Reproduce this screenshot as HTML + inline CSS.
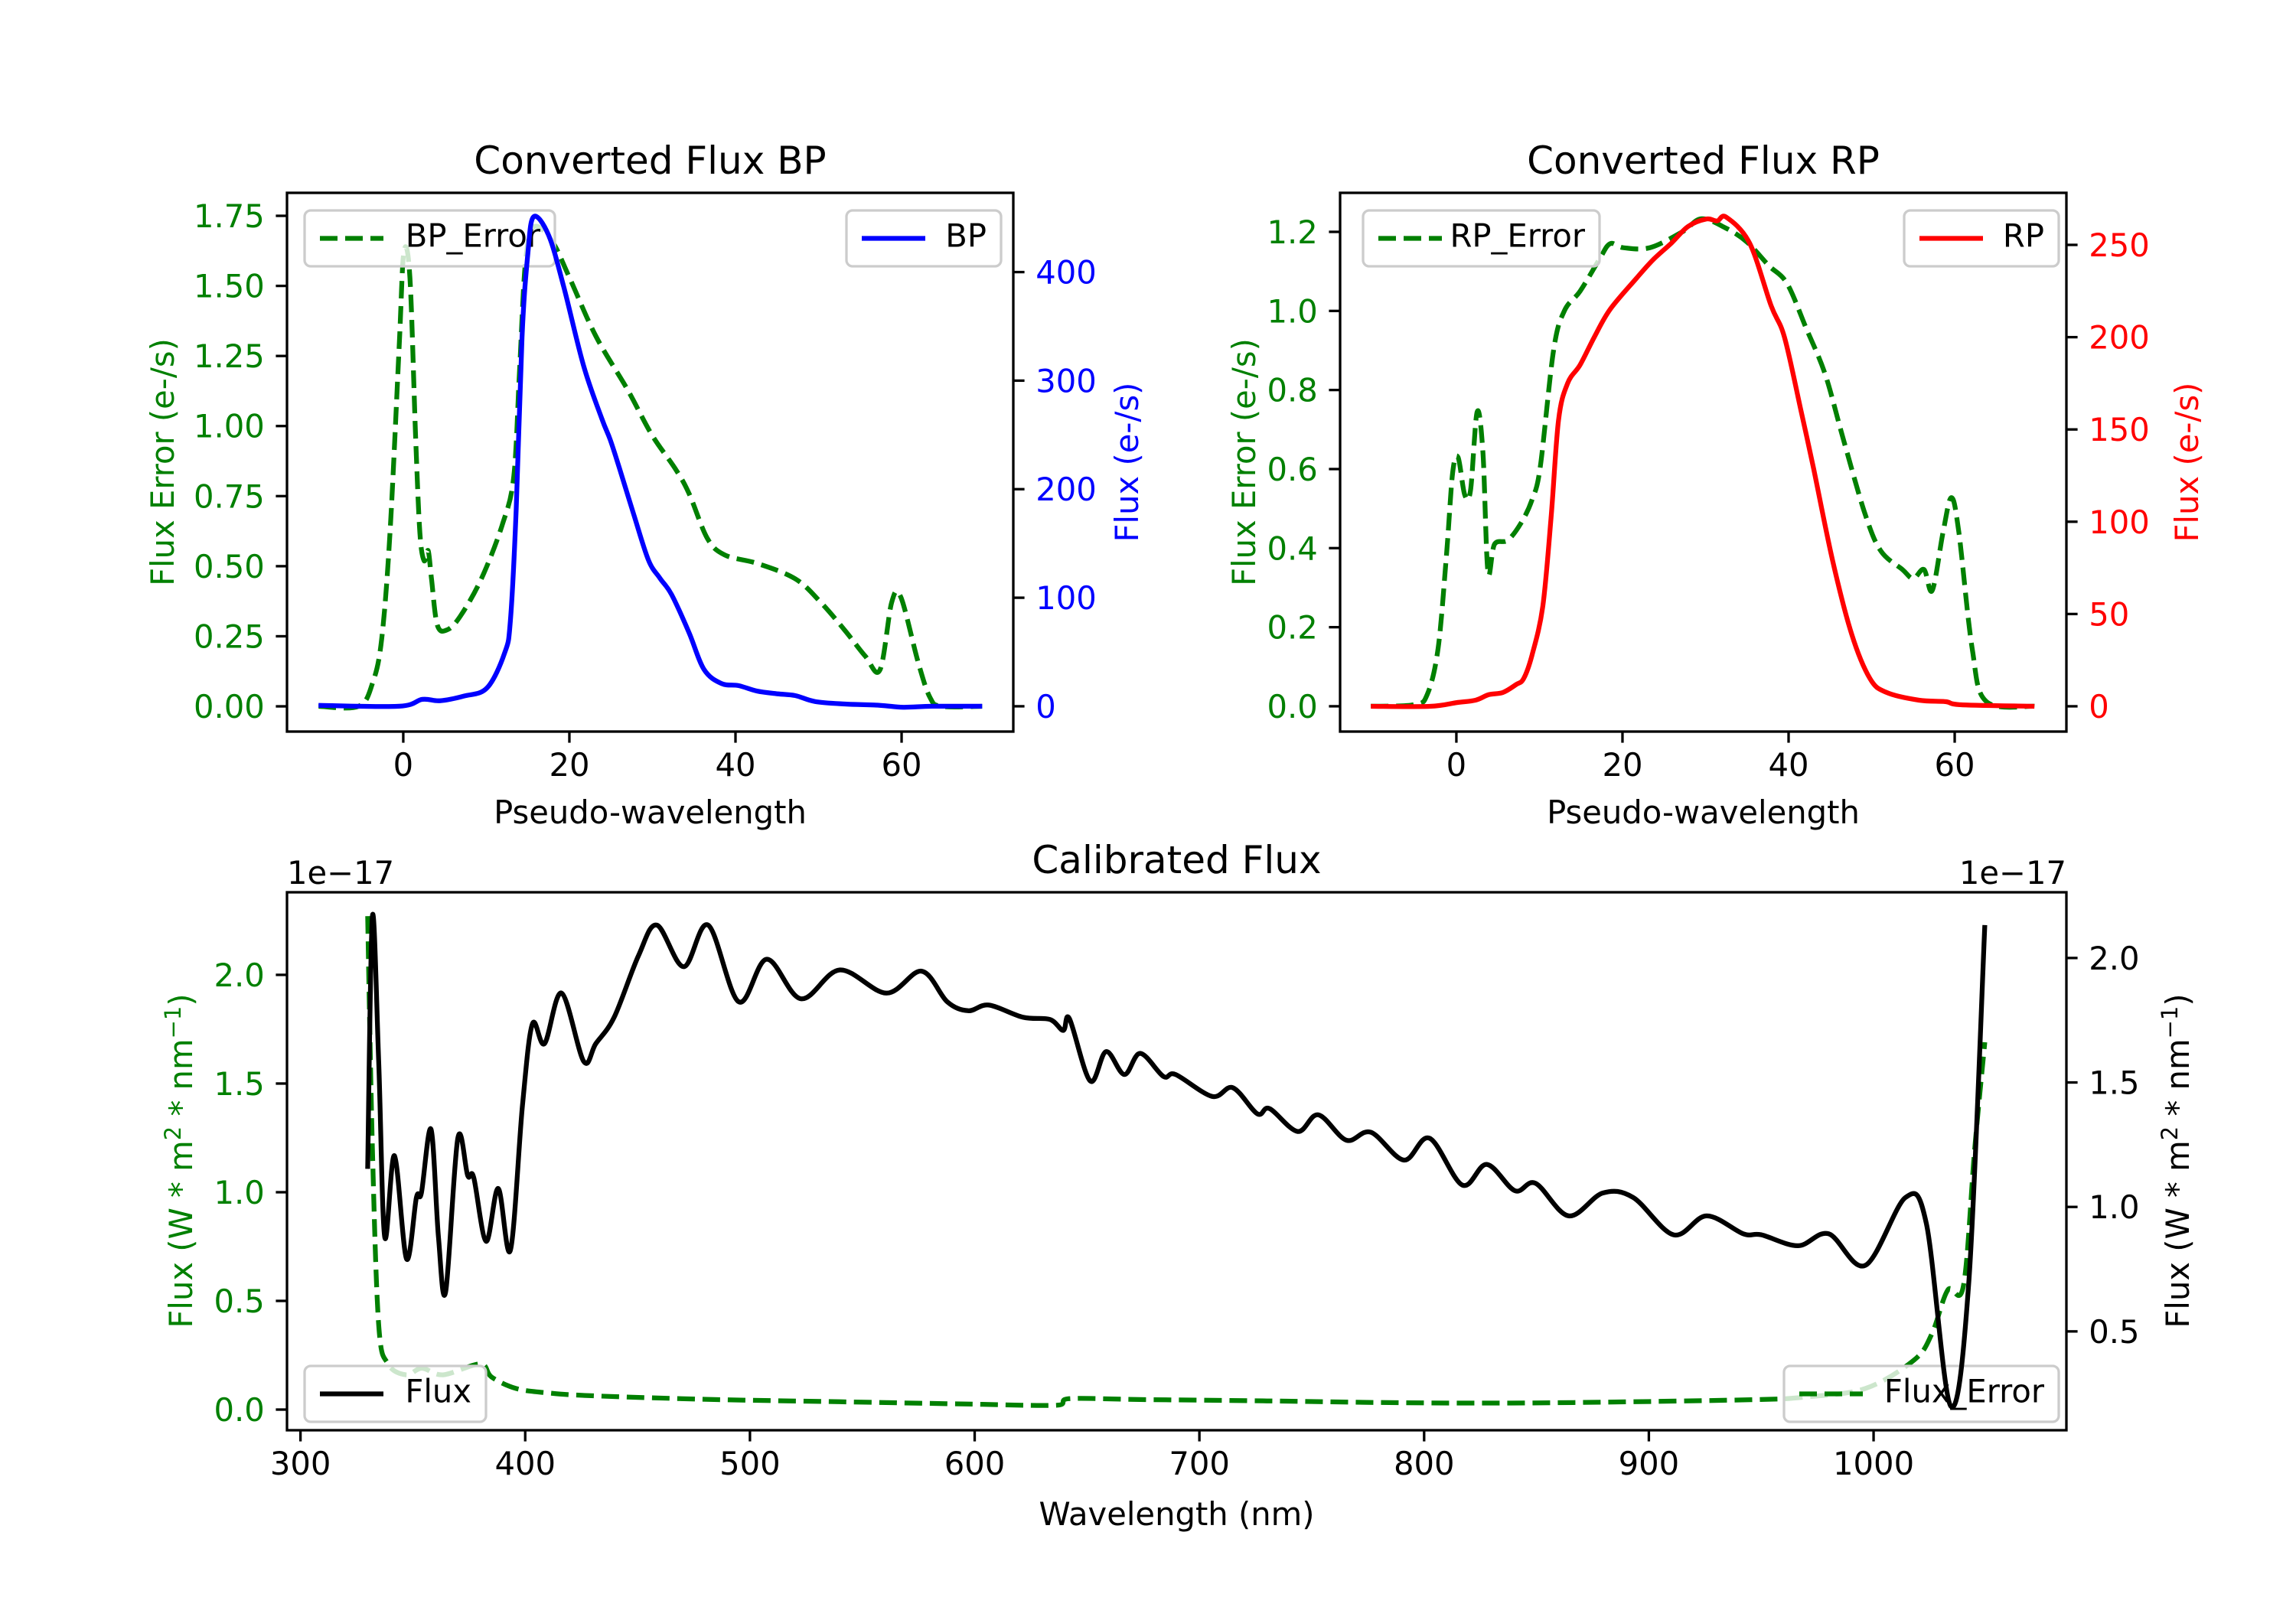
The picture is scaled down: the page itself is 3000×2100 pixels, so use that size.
<!DOCTYPE html>
<html><head><meta charset="utf-8"><style>
html,body{margin:0;padding:0;background:#fff}
svg{display:block}
text{font-family:"DejaVu Sans","Liberation Sans",sans-serif}
</style></head><body>
<svg id="fig" width="3000" height="2100" viewBox="0 0 3000 2100" xmlns="http://www.w3.org/2000/svg">
<rect width="3000" height="2100" fill="#fff"/>
</svg>
<script>
// ---------- BP panel data ----------
const bpX = [-10.2,-0.5,2.3,4.4,7.3,10.1,12.2,12.9,13.6,14.3,15,15.7,17.5,19.3,21.7,23.9,24.9,26,27.7,29.5,30.9,32.3,34.4,36.2,38.3,40.4,42.6,45,47.2,49.6,53.2,57.4,60.2,63.7,69.7];
const bpFlux = [0.9,0,6.4,5.1,9.4,17,49,79,182,340,417,451,434,387,314,265,246,220,178,135,118,103,68,34,21,19,14,11.5,9.8,4.3,2.1,0.9,-0.9,0,0];
const bpErrX = [-10.2,-5.4,-3.7,-2.6,-1.6,-0.5,0.07,0.8,1.5,2,2.5,3,3.4,4.1,5.3,6.9,9.4,11.9,13.3,14,14.7,15.7,17.9,20,23.2,27,29.9,32.7,34.4,36.6,38.7,42.6,47.2,50.3,53.2,55.6,57.4,58.8,59.9,62,63.4,64.8,69.7];
const bpErr = [0,0,0.083,0.24,0.62,1.28,1.62,1.53,0.95,0.62,0.52,0.555,0.455,0.29,0.273,0.323,0.455,0.646,0.82,1.2,1.58,1.71,1.66,1.53,1.32,1.13,0.97,0.85,0.76,0.6,0.54,0.51,0.455,0.37,0.27,0.18,0.13,0.37,0.39,0.157,0.033,0,0];
const bpXTicks = [0,20,40,60];
const bpLeftTicks = [0,0.25,0.5,0.75,1.0,1.25,1.5,1.75];
const bpLeftLabels = ["0.00","0.25","0.50","0.75","1.00","1.25","1.50","1.75"];
const bpRightTicks = [0,100,200,300,400];
const bpRightLabels = ["0","100","200","300","400"];

// ---------- RP panel data ----------
const rpX = [-10.3,-3.2,0.06,2.3,3.9,5.6,7.2,8.1,9.1,10.4,11.4,12.3,13.4,14.9,16.6,18.5,21.7,23.7,25.9,27.9,30.1,31.4,32.5,35.3,37.9,39.5,41.5,43,45.3,47.6,49.8,51.8,55.7,58.9,60.8,69.6];
const rpFlux = [0,0,2,3.3,6.3,7.5,11.8,15,27.6,54,102,155,175,185,200,215,232,242,251,260,264,263,265,251,217,200,160,129,79,39,15,7.5,3.3,2.5,0.8,0];
const rpErrX = [-10.3,-5.1,-3.5,-2.2,-1.2,-0.45,0.2,1.0,1.7,2.5,3.2,3.8,4.6,6.2,7.8,9.1,10.1,11.7,13,14.9,17.2,18.5,20.1,23.3,27.2,29.5,32.4,35,37.6,39.8,42.1,44.4,46.6,49.2,51.1,53.7,55,56.3,57.3,58.6,59.6,60.5,62.1,63.8,69.6];
const rpErr = [0,0.004,0.03,0.147,0.38,0.59,0.63,0.535,0.546,0.745,0.64,0.34,0.41,0.42,0.464,0.522,0.605,0.9,1.0,1.05,1.13,1.17,1.16,1.16,1.2,1.233,1.21,1.174,1.115,1.07,0.957,0.84,0.675,0.487,0.393,0.346,0.323,0.346,0.293,0.44,0.528,0.44,0.147,0.012,0];
const rpXTicks = [0,20,40,60];
const rpLeftTicks = [0,0.2,0.4,0.6,0.8,1.0,1.2];
const rpLeftLabels = ["0.0","0.2","0.4","0.6","0.8","1.0","1.2"];
const rpRightTicks = [0,50,100,150,200,250];
const rpRightLabels = ["0","50","100","150","200","250"];

// ---------- Calibrated panel data (units 1e-17) ----------
const calWl = [329.9,332,334.8,337.5,341.8,347.2,351.6,353.8,358.1,361.4,364.6,370,374.4,377.1,382.6,388,393.4,398.8,403.2,408.6,416.2,426,431.4,439.6,450.4,458.6,470.5,481.4,495,507.5,522.7,540,560.7,576.4,587.8,597.1,606.3,621.5,633.5,639.4,642.2,651.4,658.5,666.6,673.7,684,689.4,705.7,714.9,725.8,731.2,743.7,752.9,765.4,776.3,791,802.4,817,827.9,840.4,849.6,864.3,879.5,893,911,925.7,942,950,966.4,980,996.3,1014.2,1023.5,1034.3,1042.4,1049.5];
const calFlux = [1.153,2.168,1.585,0.879,1.206,0.791,1.038,1.056,1.312,0.879,0.659,1.276,1.126,1.118,0.862,1.074,0.826,1.409,1.735,1.656,1.859,1.585,1.656,1.762,2.009,2.132,1.965,2.132,1.824,1.995,1.836,1.952,1.859,1.947,1.824,1.788,1.811,1.762,1.753,1.709,1.756,1.506,1.624,1.532,1.617,1.524,1.532,1.444,1.479,1.374,1.395,1.303,1.37,1.268,1.3,1.188,1.276,1.088,1.171,1.065,1.095,0.964,1.056,1.038,0.888,0.964,0.892,0.888,0.844,0.892,0.765,1.038,0.932,0.2,0.703,2.132];
const calErrWl = [329.9,332,334.8,339,347,354,363.5,380,385,396,409.7,431,485.7,540,594,636.7,642,675.8,730,784.4,838.7,893,947.4,969,996.3,1018,1026,1033,1040,1045,1049.5];
const calErr = [2.27,1.2,0.39,0.21,0.16,0.19,0.16,0.21,0.15,0.097,0.077,0.063,0.046,0.036,0.026,0.02,0.05,0.046,0.04,0.032,0.03,0.036,0.046,0.057,0.097,0.228,0.35,0.55,0.57,1.2,1.69];
const calXTicks = [300,400,500,600,700,800,900,1000];
const calLeftTicks = [0,0.5,1.0,1.5,2.0];
const calLeftLabels = ["0.0","0.5","1.0","1.5","2.0"];
const calRightTicks = [0.5,1.0,1.5,2.0];
const calRightLabels = ["0.5","1.0","1.5","2.0"];

const NS = "http://www.w3.org/2000/svg";
const fig = document.getElementById('fig');
const FS = 41.7, TICK = 14.6, PAD = 14.6;
function mk(tag, attrs, parent){
  const e = document.createElementNS(NS, tag);
  for (const k in attrs) e.setAttribute(k, attrs[k]);
  (parent||fig).appendChild(e);
  return e;
}
function txt(parent, x, y, s, anchor, color, size, extra){
  const t = mk('text', Object.assign({x:x, y:y, 'text-anchor':anchor, fill:color, 'font-size':size||FS}, extra||{}), parent);
  t.textContent = s;
  return t;
}
function scale(d0, d1, p0, p1){ return v => p0 + (v - d0) / (d1 - d0) * (p1 - p0); }
// smooth curve (Catmull-Rom -> cubic Bezier) through data points
function pathD(xs, ys, sx, sy){
  const P = xs.map((v,i)=>[sx(v), sy(ys[i])]);
  let d = 'M' + P[0][0].toFixed(1) + ' ' + P[0][1].toFixed(1);
  for (let i = 0; i < P.length - 1; i++){
    const p0 = P[Math.max(0,i-1)], p1 = P[i], p2 = P[i+1], p3 = P[Math.min(P.length-1,i+2)];
    const k = 1/6;
    const c1 = [p1[0] + (p2[0]-p0[0])*k, p1[1] + (p2[1]-p0[1])*k];
    const c2 = [p2[0] - (p3[0]-p1[0])*k, p2[1] - (p3[1]-p1[1])*k];
    c1[0] = Math.min(Math.max(c1[0], p1[0]), p2[0]);
    c2[0] = Math.min(Math.max(c2[0], p1[0]), p2[0]);
    d += ' C' + c1[0].toFixed(1) + ' ' + c1[1].toFixed(1) + ' ' + c2[0].toFixed(1) + ' ' + c2[1].toFixed(1) + ' ' + p2[0].toFixed(1) + ' ' + p2[1].toFixed(1);
  }
  return d;
}
function legend(parent, x, y, w, h, label, color, dashed, name){
  const g = mk('g', {}, parent);
  
  
  mk('rect', {x:x, y:y, width:w, height:h, rx:8, fill:'#fff', 'fill-opacity':0.8, stroke:'#cccccc', 'stroke-width':3.3}, g);
  mk('line', {x1:x+20, y1:y+h/2, x2:x+103, y2:y+h/2, stroke:color, 'stroke-width':6.25, 'stroke-dasharray': dashed ? '23 10' : 'none'}, g);
  txt(g, x+w-19, y+h/2+11, label, 'end', '#000');
  return g;
}
function axisFrame(g, L, T, R, B){
  const f = mk('rect', {x:L, y:T, width:R-L, height:B-T, fill:'none', stroke:'#000', 'stroke-width':3.3}, g);
  
  
}
function xTicks(g, ticks, labels, sx, B){
  ticks.forEach((v,i)=>{
    const x = sx(v);
    mk('line', {x1:x, y1:B, x2:x, y2:B+TICK, stroke:'#000', 'stroke-width':3.3}, g);
    const t = txt(g, x, B+TICK+PAD+29, labels[i], 'middle', '#000');
    
    
  });
}
function yTicks(g, ticks, labels, sy, X, side, color){
  ticks.forEach((v,i)=>{
    const y = sy(v);
    const d = side === 'left' ? -1 : 1;
    mk('line', {x1:X, y1:y, x2:X + d*TICK, y2:y, stroke:'#000', 'stroke-width':3.3}, g);
    const t = txt(g, X + d*(TICK+PAD), y+15, labels[i], side === 'left' ? 'end' : 'start', color);
    
    
  });
}

// ===== BP panel =====
(function(){
  const L=375, R=1324, T=252, B=956;
  const g = mk('g', {});
  
  
  const sx = scale(-14.0, 73.45, L, R);
  const syL = scale(-0.09, 1.832, B, T);
  const syR = scale(-23.3, 473, B, T);
  const e = mk('path', {d:pathD(bpErrX, bpErr, sx, syL), fill:'none', stroke:'#008000', 'stroke-width':6.25, 'stroke-dasharray':'23 10'}, g);
  
  
  legend(g, 398, 275, 327, 73, 'BP_Error', '#008000', true, 'bp-error-legend');
  const f = mk('path', {d:pathD(bpX, bpFlux, sx, syR), fill:'none', stroke:'#0000ff', 'stroke-width':6.25, 'stroke-linejoin':'round'}, g);
  
  
  legend(g, 1106, 275, 202, 73, 'BP', '#0000ff', false, 'bp-legend');
  axisFrame(g, L, T, R, B);
  xTicks(g, bpXTicks, bpXTicks.map(String), sx, B);
  yTicks(g, bpLeftTicks, bpLeftLabels, syL, L, 'left', '#008000');
  yTicks(g, bpRightTicks, bpRightLabels, syR, R, 'right', '#0000ff');
  const t1 = txt(g, (L+R)/2, 227, 'Converted Flux BP', 'middle', '#000', 50);
   
  const t2 = txt(g, (L+R)/2, 1076, 'Pseudo-wavelength', 'middle', '#000');
   
  const t3 = txt(g, 0, 0, 'Flux Error (e-/s)', 'middle', '#008000', FS, {transform:'translate(227,604) rotate(-90)'});
   
  const t4 = txt(g, 0, 0, 'Flux (e-/s)', 'middle', '#0000ff', FS, {transform:'translate(1487,604) rotate(-90)'});
   
})();

// ===== RP panel =====
(function(){
  const L=1751, R=2700, T=252, B=956;
  const g = mk('g', {});
  
  
  const sx = scale(-14.0, 73.45, L, R);
  const syL = scale(-0.064, 1.2987, B, T);
  const syR = scale(-13.7, 278.2, B, T);
  const e = mk('path', {d:pathD(rpErrX, rpErr, sx, syL), fill:'none', stroke:'#008000', 'stroke-width':6.25, 'stroke-dasharray':'23 10'}, g);
  
  
  legend(g, 1781, 275, 309, 73, 'RP_Error', '#008000', true, 'rp-error-legend');
  const f = mk('path', {d:pathD(rpX, rpFlux, sx, syR), fill:'none', stroke:'#ff0000', 'stroke-width':6.25, 'stroke-linejoin':'round'}, g);
  
  
  legend(g, 2488, 275, 202, 73, 'RP', '#ff0000', false, 'rp-legend');
  axisFrame(g, L, T, R, B);
  xTicks(g, rpXTicks, rpXTicks.map(String), sx, B);
  yTicks(g, rpLeftTicks, rpLeftLabels, syL, L, 'left', '#008000');
  yTicks(g, rpRightTicks, rpRightLabels, syR, R, 'right', '#ff0000');
  const t1 = txt(g, (L+R)/2, 227, 'Converted Flux RP', 'middle', '#000', 50);
   
  const t2 = txt(g, (L+R)/2, 1076, 'Pseudo-wavelength', 'middle', '#000');
   
  const t3 = txt(g, 0, 0, 'Flux Error (e-/s)', 'middle', '#008000', FS, {transform:'translate(1640,604) rotate(-90)'});
   
  const t4 = txt(g, 0, 0, 'Flux (e-/s)', 'middle', '#ff0000', FS, {transform:'translate(2872,604) rotate(-90)'});
   
})();

// ===== Calibrated panel =====
(function(){
  const L=375, R=2700, T=1166, B=1869;
  const g = mk('g', {});
  
  
  const sx = scale(294.0, 1085.8, L, R);
  const syL = scale(-0.095, 2.38, B, T);
  const syR = scale(0.103, 2.264, B, T);
  const e = mk('path', {d:pathD(calErrWl, calErr, sx, syL), fill:'none', stroke:'#008000', 'stroke-width':6.25, 'stroke-dasharray':'23 10'}, g);
  
  
  legend(g, 2331, 1785, 359, 73, 'Flux_Error', '#008000', true, 'flux-error-legend');
  legend(g, 398, 1785, 237, 73, 'Flux', '#000', false, 'flux-legend');
  const f = mk('path', {d:pathD(calWl, calFlux, sx, syR), fill:'none', stroke:'#000', 'stroke-width':6.25, 'stroke-linejoin':'round'}, g);
  
  
  axisFrame(g, L, T, R, B);
  xTicks(g, calXTicks, calXTicks.map(String), sx, B);
  yTicks(g, calLeftTicks, calLeftLabels, syL, L, 'left', '#008000');
  yTicks(g, calRightTicks, calRightLabels, syR, R, 'right', '#000');
  const t1 = txt(g, (L+R)/2, 1141, 'Calibrated Flux', 'middle', '#000', 50);
   
  const o1 = txt(g, L, 1155, '1e\u221217', 'start', '#000');
   
  const o2 = txt(g, R, 1155, '1e\u221217', 'end', '#000');
   
  const t2 = txt(g, (L+R)/2, 1993, 'Wavelength (nm)', 'middle', '#000');
   
  function fluxLabel(tx, color, name){
    const t = mk('text', {x:0, y:0, 'text-anchor':'middle', fill:color, 'font-size':FS, transform:tx}, g);
    
    
    t.appendChild(document.createTextNode('Flux (W * m'));
    const s1 = mk('tspan', {dy:-15, 'font-size':29}, t); s1.textContent = '2';
    const s2 = mk('tspan', {dy:15}, t); s2.textContent = ' * nm';
    const s3 = mk('tspan', {dy:-15, 'font-size':29}, t); s3.textContent = '\u22121';
    const s4 = mk('tspan', {dy:15}, t); s4.textContent = ')';
  }
  fluxLabel('translate(251,1517) rotate(-90)', '#008000', 'calibrated-left-y-axis-title');
  fluxLabel('translate(2860,1517) rotate(-90)', '#000', 'calibrated-right-y-axis-title');
})();
</script>
</body></html>
